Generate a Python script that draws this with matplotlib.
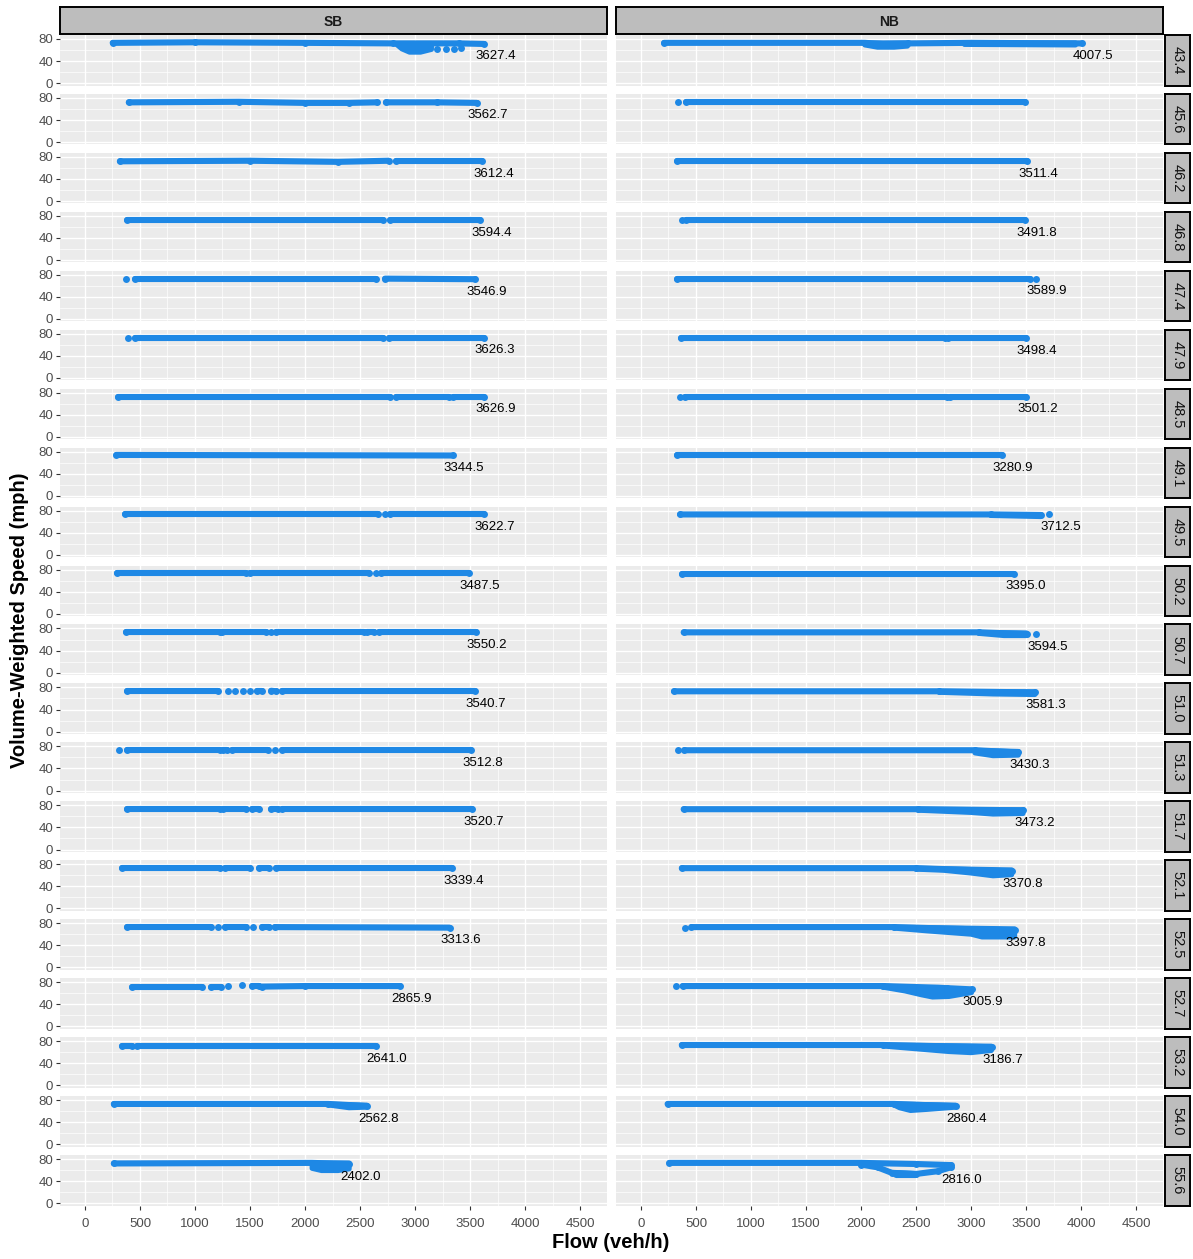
import matplotlib
matplotlib.use("Agg")
import matplotlib.pyplot as plt

plt.rcParams['font.family'] = ['Liberation Sans', 'DejaVu Sans']

#%% data: flow (veh/h) vs volume-weighted speed (mph), one panel per milepost
mileposts = ['43.4', '45.6', '46.2', '46.8', '47.4', '47.9', '48.5', '49.1', '49.5', '50.2',
             '50.7', '51.0', '51.3', '51.7', '52.1', '52.5', '52.7', '53.2', '54.0', '55.6']
directions = ['SB', 'NB']

# max observed flow per panel (None = not labelled)
sb_max_flow = [3627.4, 3562.7, 3612.4, 3594.4, 3546.9, 3626.3, 3626.9, 3344.5, 3622.7, 3487.5,
               3550.2, 3540.7, 3512.8, 3520.7, 3339.4, 3313.6, 2865.9, 2641.0, 2562.8, 2402.0]
nb_max_flow = [4007.5, None, 3511.4, 3491.8, 3589.9, 3498.4, 3501.2, 3280.9, 3712.5, 3395.0,
               3594.5, 3581.3, 3430.3, 3473.2, 3370.8, 3397.8, 3005.9, 3186.7, 2860.4, 2816.0]

# free-flow runs of dense observations, (flow, speed) along each run
sb_runs = [
    [[(252, 73), (1000, 74), (2000, 73), (2800, 72), (3400, 72), (3627.4, 71)],
     [(3200, 61)], [(3280, 62)], [(3350, 62)], [(3420, 63)]],
    [[(398, 72), (1400, 73), (2000, 71), (2400, 71), (2650, 72)], [(2735, 72), (3200, 72), (3562.7, 71)]],
    [[(317, 72), (1500, 73), (2300, 71), (2760, 73)], [(2824, 72), (3612.4, 72)]],
    [[(382, 72), (2711, 72)], [(2776, 72), (3594.4, 72)]],
    [[(375, 73)], [(456, 73), (2646, 73)], [(2727, 73), (3546.9, 72)]],
    [[(388, 73)], [(456, 73), (2711, 73)], [(2760, 73), (3626.3, 73)]],
    [[(301, 73), (2776, 73)], [(2824, 73), (3309, 73)], [(3342, 73), (3626.9, 73)]],
    [[(285, 74), (3344.5, 73)]],
    [[(366, 73), (2662, 73)], [(2727, 73)], [(2776, 73), (3622.7, 73)]],
    [[(294, 73), (1465, 73)], [(1498, 73), (2582, 73)], [(2646, 73)], [(2695, 73), (3487.5, 73)]],
    [[(375, 73), (1223, 73)], [(1245, 73), (1643, 73)], [(1692, 73)], [(1740, 73), (2533, 73)],
     [(2565, 73), (2630, 73)], [(2669, 73), (3550.2, 73)]],
    [[(382, 73), (1213, 73)], [(1304, 73)], [(1368, 73)], [(1433, 73)], [(1498, 73)],
     [(1563, 74), (1611, 74)], [(1692, 74), (1740, 73)], [(1789, 73), (3540.7, 73)]],
    [[(307, 73)], [(382, 73), (1223, 73)], [(1255, 73), (1290, 73)], [(1336, 73), (1660, 73)],
     [(1724, 73)], [(1789, 73), (3512.8, 73)]],
    [[(382, 73), (1223, 73)], [(1255, 73), (1465, 73)], [(1514, 73), (1579, 73)],
     [(1692, 73), (1757, 73)], [(1789, 73), (3520.7, 73)]],
    [[(333, 73), (1223, 73)], [(1271, 73), (1498, 73)], [(1579, 73), (1676, 73)], [(1740, 73), (3339.4, 73)]],
    [[(382, 73), (1142, 73)], [(1207, 73)], [(1271, 73), (1465, 73)], [(1524, 73)],
     [(1611, 73), (1676, 73)], [(1724, 73), (3313.6, 72)]],
    [[(424, 72), (1061, 72)], [(1142, 72), (1240, 72)], [(1304, 73)], [(1423, 74)],
     [(1514, 73), (1579, 73)], [(1611, 72), (2000, 73), (2865.9, 73)]],
    [[(340, 71), (424, 71)], [(469, 71), (2641.0, 71)]],
    [[(262, 73), (2210, 73), (2400, 71), (2562.8, 69)]],
    [[(262, 72), (2064, 73), (2402.0, 71)]],
]
nb_runs = [
    [[(210, 73), (2035, 73), (2200, 71), (2423, 72), (3000, 73), (4007.5, 72)]],
    [[(339, 72)], [(413, 72), (3488, 72)]],
    [[(329, 72), (3511.4, 72)]],
    [[(371, 72)], [(413, 72), (3491.8, 72)]],
    [[(329, 73), (3537, 73)], [(3589.9, 73)]],
    [[(365, 72), (2762, 72)], [(2794, 72), (3498.4, 72)]],
    [[(355, 72)], [(404, 73), (2778, 73)], [(2810, 73), (3501.2, 73)]],
    [[(329, 73), (3280.9, 73)]],
    [[(355, 73), (3180, 73), (3634, 72)], [(3712.5, 73)]],
    [[(371, 72), (3395.0, 72)]],
    [[(388, 73), (3070, 73), (3505, 70)], [(3594.5, 70)]],
    [[(300, 73), (2713, 73), (3581.3, 71)]],
    [[(339, 73)], [(394, 73), (3036, 73), (3430.3, 69)]],
    [[(388, 73), (2519, 73), (3473.2, 71)]],
    [[(371, 73), (2500, 73), (3370.8, 67)]],
    [[(404, 72)], [(459, 73), (2300, 73), (3397.8, 67)]],
    [[(317, 73)], [(378, 73), (2196, 73), (2700, 70), (3005.9, 67)], [(2700, 69)], [(2780, 69)]],
    [[(371, 73), (2200, 73), (3186.7, 69)]],
    [[(242, 73), (2300, 73), (2860.4, 69)]],
    [[(258, 73), (2000, 73), (2500, 71), (2816.0, 69)],
     [(2000, 70), (2150, 65), (2280, 55), (2500, 53), (2700, 58), (2816, 65)]],
]

# congested clusters near capacity, outlined as (flow, speed) polygons
sb_blobs = {
    0: [[(2820, 72), (3150, 72), (3150, 61), (3050, 56), (2950, 56), (2880, 62)]],
    18: [[(2150, 73), (2562, 71), (2562, 67), (2400, 66), (2250, 70)]],
    19: [[(2064, 73), (2402, 73), (2402, 62), (2300, 59), (2150, 59), (2064, 63)]],
}
nb_blobs = {
    0: [[(2035, 73), (2423, 73), (2423, 67), (2300, 65), (2150, 65), (2035, 69)],
        [(2940, 73), (3950, 73), (3950, 69), (2940, 70)]],
    8: [[(3180, 73), (3634, 73), (3634, 69), (3180, 71)]],
    10: [[(3070, 73), (3505, 72), (3505, 67), (3300, 67), (3070, 71)]],
    11: [[(2713, 73), (3581, 72), (3581, 67), (3200, 68), (2713, 71)]],
    12: [[(3036, 73), (3430, 71), (3430, 64), (3200, 63), (3036, 68)]],
    13: [[(2519, 73), (3473, 72), (3473, 65), (3200, 64), (3000, 67), (2519, 71)]],
    14: [[(2500, 73), (3370, 70), (3370, 61), (3200, 59), (3000, 64), (2750, 69), (2500, 71)]],
    15: [[(2300, 73), (3397, 70), (3397, 55), (3100, 55), (3000, 60), (2600, 66), (2300, 71)]],
    16: [[(2196, 73), (2600, 70), (2900, 67), (3005, 66), (3005, 61), (2800, 54),
          (2650, 53), (2550, 57), (2400, 64), (2196, 71)]],
    17: [[(2200, 73), (3186, 71), (3186, 63), (3000, 59), (2800, 61), (2500, 66), (2200, 71)]],
    18: [[(2300, 73), (2860, 71), (2860, 67), (2600, 63), (2450, 61), (2350, 66), (2300, 71)]],
    19: [[(2270, 56), (2320, 50), (2500, 50), (2500, 54)]],
}

#%% layout (pixels)
W, H = 1193, 1259
col_x = [(60, 607), (616, 1163)]
row_top0, row_pitch, row_h = 35, 58.95, 50.5
strip_top = (7, 34)
strip_right = (1165, 1190)

point_color = '#1E88E5'
strip_fill = '#BDBDBD'
band_lw = 4.4

fig = plt.figure(figsize=(W / 100, H / 100), dpi=100)


def px_rect(x0, y0, x1, y1):
    return [x0 / W, 1 - y1 / H, (x1 - x0) / W, (y1 - y0) / H]


def draw_run(ax, run):
    xs = [p[0] for p in run]
    ys = [p[1] for p in run]
    ax.plot(xs, ys, color=point_color, lw=band_lw, solid_capstyle='round',
            solid_joinstyle='round', marker='o', ms=band_lw + 0.6, mew=0, zorder=3)


def draw_blob(ax, poly):
    xs = [p[0] for p in poly]
    ys = [p[1] for p in poly]
    ax.fill(xs, ys, facecolor=point_color, edgecolor=point_color, lw=band_lw * 0.8,
            joinstyle='round', zorder=3)


for c, (direction, runs, blobs, maxf) in enumerate(zip(directions, [sb_runs, nb_runs],
                                                       [sb_blobs, nb_blobs],
                                                       [sb_max_flow, nb_max_flow])):
    x0, x1 = col_x[c]
    for r, mp in enumerate(mileposts):
        y0 = row_top0 + r * row_pitch
        ax = fig.add_axes(px_rect(x0, y0, x1, y0 + row_h))
        ax.set_facecolor('#EBEBEB')
        ax.set_xlim(-227, 4745)
        ax.set_ylim(-4.2, 87.2)
        ax.set_xticks(range(0, 5000, 500))
        ax.set_xticks(range(250, 4500, 500), minor=True)
        ax.set_yticks([0, 40, 80])
        ax.set_yticks([20, 60], minor=True)
        ax.grid(which='major', color='white', lw=1.0)
        ax.grid(which='minor', color='white', lw=0.5)
        ax.set_axisbelow(True)
        for s in ax.spines.values():
            s.set_visible(False)
        ax.tick_params(which='minor', length=0)
        ax.tick_params(which='major', length=3, width=0.8, color='#333333',
                       labelsize=9.5, labelcolor='#4D4D4D')
        ax.tick_params(axis='y', pad=2)
        ax.tick_params(axis='x', pad=6)
        if c != 0:
            ax.tick_params(axis='y', left=False, labelleft=False)
        if r != len(mileposts) - 1:
            ax.tick_params(axis='x', bottom=False, labelbottom=False)

        for poly in blobs.get(r, []):
            draw_blob(ax, poly)
        for run in runs[r]:
            draw_run(ax, run)

        # label the maximum flow next to the run that reaches it
        v = maxf[r]
        if v is not None:
            end_speed = runs[r][0][-1][1]
            for run in runs[r]:
                if run[-1][0] == v:
                    end_speed = run[-1][1]
            ax.annotate('%.1f' % v, xy=(v, end_speed), xytext=(-6.5, -9),
                        textcoords='offset points', ha='left', va='center',
                        fontsize=9.5, color='black', zorder=4)

        # milepost strip on the right
        if c == 1:
            sax = fig.add_axes(px_rect(strip_right[0], y0, strip_right[1], y0 + row_h))
            sax.set_xticks([])
            sax.set_yticks([])
            sax.set_facecolor(strip_fill)
            for s in sax.spines.values():
                s.set_linewidth(1.4)
                s.set_color('black')
            sax.text(0.5, 0.5, mp, rotation=-90, ha='center', va='center',
                     fontsize=10.5, color='#111111', transform=sax.transAxes)

    # direction strip on top
    tax = fig.add_axes(px_rect(x0, strip_top[0], x1, strip_top[1]))
    tax.set_xticks([])
    tax.set_yticks([])
    tax.set_facecolor(strip_fill)
    for s in tax.spines.values():
        s.set_linewidth(1.4)
        s.set_color('black')
    tax.text(0.5, 0.45, direction, ha='center', va='center', fontsize=10,
             fontweight='bold', color='#1A1A1A', transform=tax.transAxes)

fig.text(611 / W, 1 - 1243 / H, 'Flow (veh/h)', ha='center', va='center',
         fontsize=14.5, fontweight='bold')
fig.text(20 / W, 1 - 620 / H, 'Volume-Weighted Speed (mph)', ha='center', va='center',
         rotation=90, fontsize=14.5, fontweight='bold')

fig.savefig('out.png', dpi=100, facecolor='white')
